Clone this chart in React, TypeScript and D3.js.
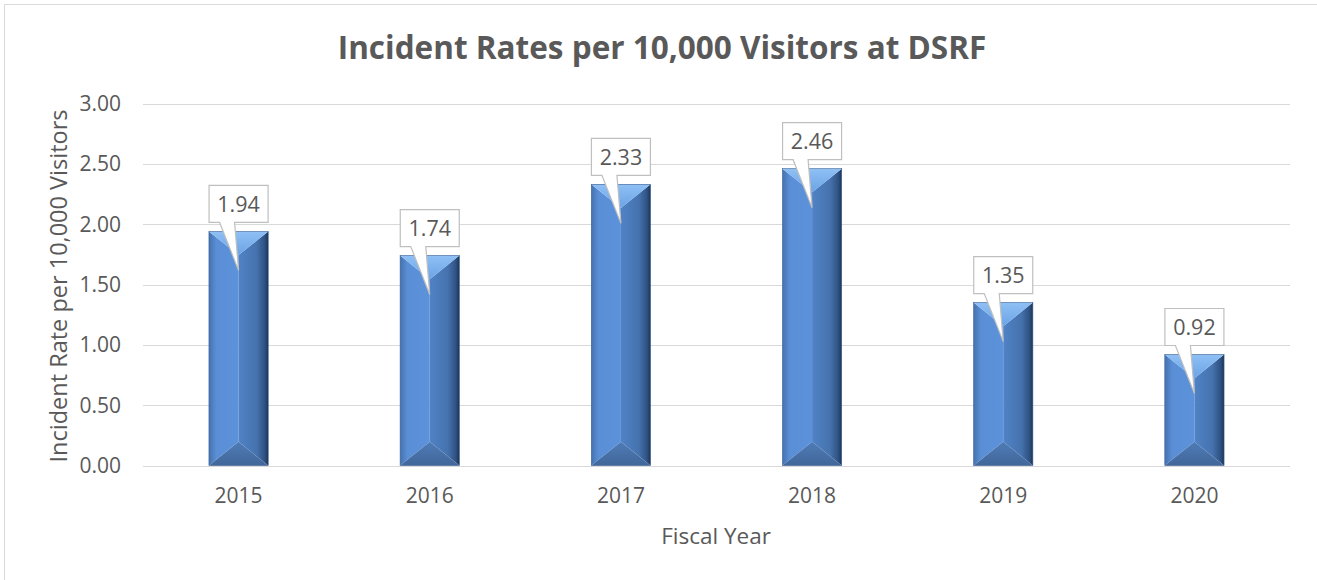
import React from "react";
import * as d3 from "d3";

const years = ["2015", "2016", "2017", "2018", "2019", "2020"];
const rates = [1.94, 1.74, 2.33, 2.46, 1.35, 0.92];
const yTicks = [0, 0.5, 1, 1.5, 2, 2.5, 3];

const W = 1317;
const H = 580;
const plot = { left: 143, right: 1290, top: 103.5, bottom: 465.5 };
const FONT = "'Open Sans', 'Liberation Sans', sans-serif";
const TXT = "#595959";

export default function App() {
  const x = d3.scaleBand<string>().domain(years).range([plot.left, plot.right]).paddingInner(0.69).paddingOuter(0.345);
  const y = d3.scaleLinear().domain([0, 3]).range([plot.bottom, plot.top]);
  const bw = x.bandwidth();

  return (
    <svg width={W} height={H} style={{ position: "absolute", left: 0, top: 0, display: "block", background: "#fff" }}>
      <defs>
        <linearGradient id="leftFace" x1="0" x2="1" y1="0" y2="0">
          <stop offset="0" stopColor="#4572b0" />
          <stop offset="0.25" stopColor="#5a8fd6" />
          <stop offset="1" stopColor="#5c92db" />
        </linearGradient>
        <linearGradient id="rightFace" x1="0" x2="1" y1="0" y2="0">
          <stop offset="0" stopColor="#5082c6" />
          <stop offset="0.6" stopColor="#4673ae" />
          <stop offset="0.88" stopColor="#2f5283" />
          <stop offset="1" stopColor="#1c3455" />
        </linearGradient>
        <linearGradient id="topFace" x1="0" x2="0" y1="0" y2="1">
          <stop offset="0" stopColor="#8fc0f5" />
          <stop offset="1" stopColor="#6ba3e5" />
        </linearGradient>
        <linearGradient id="bottomFace" x1="0" x2="0" y1="0" y2="1">
          <stop offset="0" stopColor="#4e7bb6" />
          <stop offset="1" stopColor="#41679a" />
        </linearGradient>
      </defs>

      <rect x={4.5} y={4.5} width={W + 10} height={H + 10} fill="#fff" stroke="#d9d9d9" strokeWidth={1} />

      <text x={662} y={59} textAnchor="middle" fontFamily={FONT} fontWeight={700} fontSize={31.5} fill={TXT}>
        Incident Rates per 10,000 Visitors at DSRF
      </text>

      {yTicks.map((t) => (
        <g key={t}>
          <line x1={plot.left} x2={plot.right} y1={Math.round(y(t)) + 0.5} y2={Math.round(y(t)) + 0.5} stroke="#d9d9d9" strokeWidth={1} />
          <text x={121} y={y(t)} dy="0.36em" textAnchor="end" fontFamily={FONT} fontSize={21} fill={TXT}>
            {t.toFixed(2)}
          </text>
        </g>
      ))}

      {years.map((yr, i) => {
        const x0 = x(yr)!;
        const x1 = x0 + bw;
        const cx = x0 + bw / 2;
        const y0 = y(rates[i]);
        const y1 = y(0);
        const b = Math.min(bw * 0.4, (y1 - y0) / 2);
        const pts = (arr: number[][]) => arr.map((p) => p.join(",")).join(" ");
        const boxW = 59;
        const boxH = 37;
        const bx = cx - boxW / 2;
        const bBottom = y0 - 9;
        const bTop = bBottom - boxH;
        const tipY = y0 + 39;
        const callout = `M${bx},${bTop} H${bx + boxW} V${bBottom} H${cx - 4} L${cx},${tipY} L${cx - 19},${bBottom} H${bx} Z`;
        return (
          <g key={yr}>
            <polygon points={pts([[x0, y0], [cx, y0 + b], [cx, y1 - b], [x0, y1]])} fill="url(#leftFace)" />
            <polygon points={pts([[cx, y0 + b], [x1, y0], [x1, y1], [cx, y1 - b]])} fill="url(#rightFace)" />
            <polygon points={pts([[x0, y0], [x1, y0], [cx, y0 + b]])} fill="url(#topFace)" />
            <polygon points={pts([[x0, y1], [x1, y1], [cx, y1 - b]])} fill="url(#bottomFace)" />
            <rect x={x0} y={y0} width={bw} height={y1 - y0} fill="none" stroke="#3a5f92" strokeWidth={0.6} />
            <path d={callout} fill="#fff" stroke="#bfbfbf" strokeWidth={1.2} />
            <text x={cx} y={bTop + boxH / 2} dy="0.36em" textAnchor="middle" fontFamily={FONT} fontSize={21.5} fill={TXT}>
              {rates[i].toFixed(2)}
            </text>
            <text x={cx} y={503} textAnchor="middle" fontFamily={FONT} fontSize={21} fill={TXT}>
              {yr}
            </text>
          </g>
        );
      })}

      <text x={716} y={544} textAnchor="middle" fontFamily={FONT} fontSize={22.5} fill={TXT}>
        Fiscal Year
      </text>
      <text transform={`translate(67,286) rotate(-90)`} textAnchor="middle" fontFamily={FONT} fontSize={23.5} fill={TXT}>
        Incident Rate per 10,000 Visitors
      </text>
    </svg>
  );
}
